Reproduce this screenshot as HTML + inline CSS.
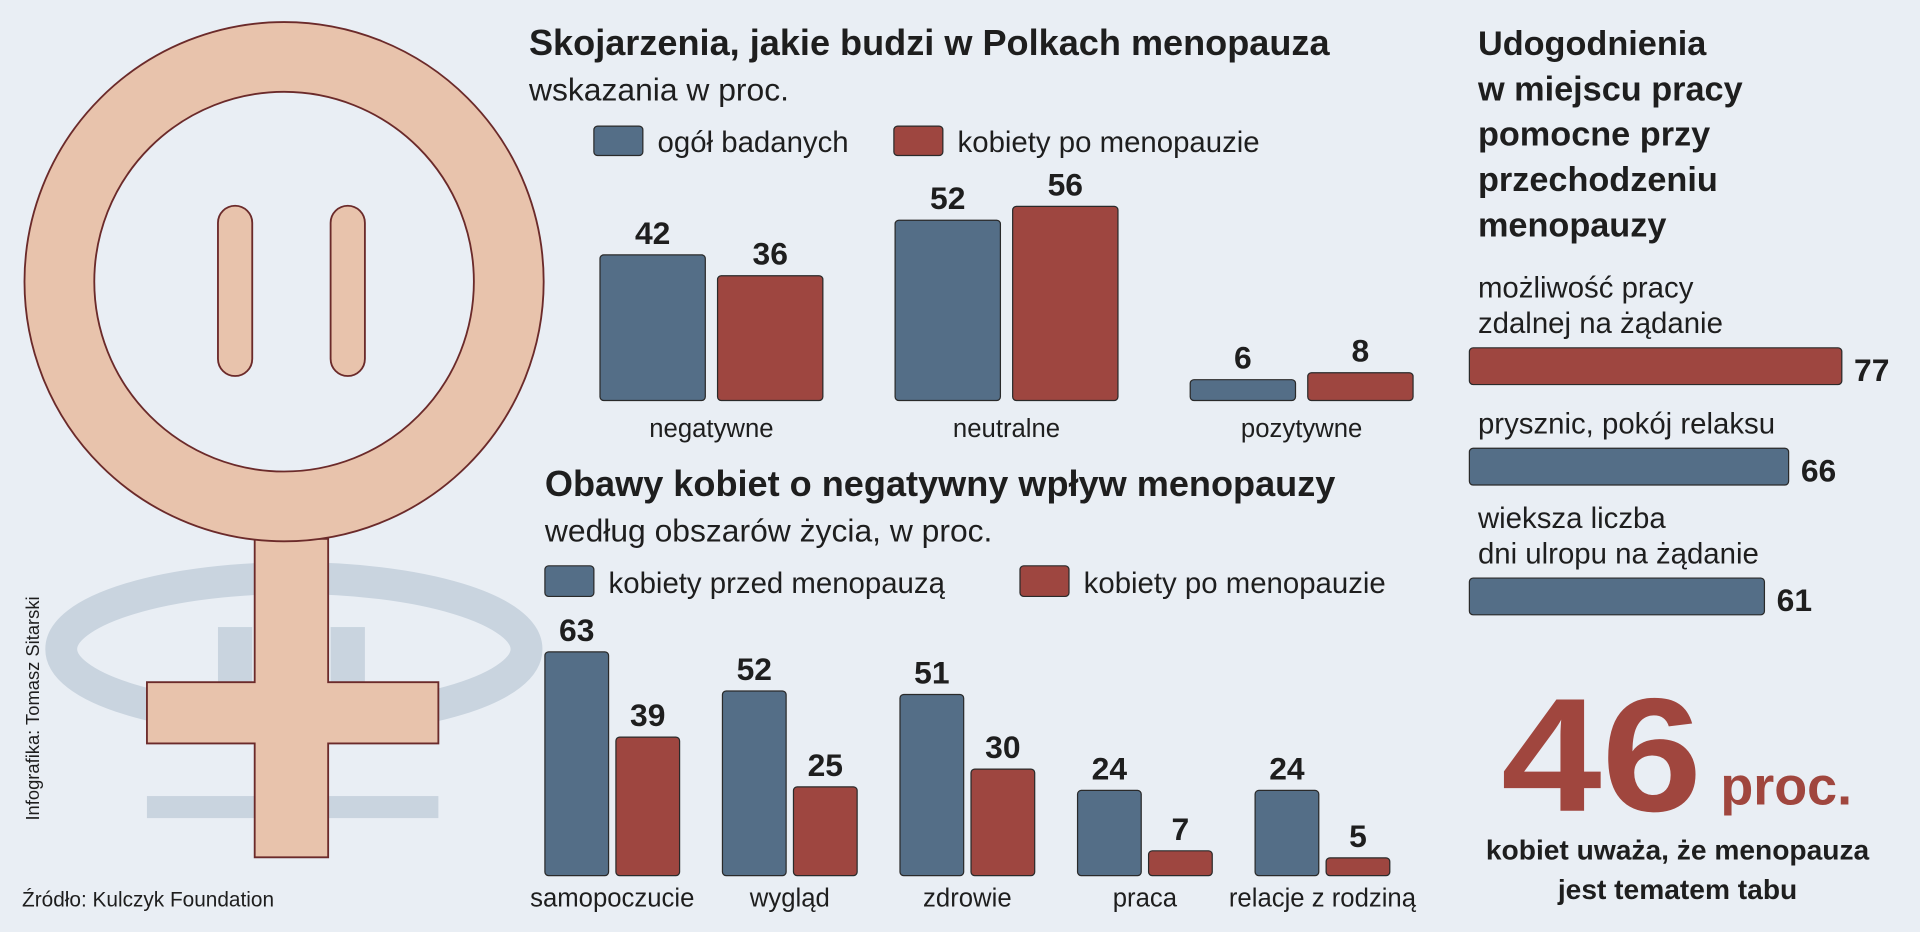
<!DOCTYPE html>
<html><head><meta charset="utf-8">
<style>
html,body{margin:0;padding:0;background:#e9eef4;overflow:hidden}
svg{display:block}
text{font-family:"Liberation Sans",sans-serif;fill:#1e1e1e}
.b{font-weight:bold}
</style></head>
<body>
<svg id="s" width="1920" height="932" viewBox="0 0 1568 761" preserveAspectRatio="none" xmlns="http://www.w3.org/2000/svg">
<rect width="1568" height="761" fill="#e9eef4"/>
<g fill="none" stroke="#c9d4df">
<ellipse cx="240" cy="530" rx="190" ry="58" stroke-width="26"/>
<rect x="178" y="512" width="28" height="45" fill="#c9d4df" stroke="none"/>
<rect x="270" y="512" width="28" height="45" fill="#c9d4df" stroke="none"/>
<rect x="120" y="650" width="238" height="18" fill="#c9d4df" stroke="none"/>
</g>
<g fill="#e8c3ac" stroke="#6b2a2a" stroke-width="1.5">
<path d="M208,440 L208,557 L120,557 L120,607 L208,607 L208,700 L268,700 L268,607 L358,607 L358,557 L268,557 L268,440 Z"/>
<circle cx="232" cy="230" r="212"/>
<circle cx="232" cy="230" r="155" fill="#e9eef4"/>
<rect x="178" y="168" width="28" height="139" rx="14"/>
<rect x="270" y="168" width="28" height="139" rx="14"/>
</g>
<text transform="translate(32,670) rotate(-90)" font-size="15">Infografika: Tomasz Sitarski</text>
<text x="18" y="740" font-size="17">Źródło: Kulczyk Foundation</text>

<text class="b" x="432" y="45" font-size="29.5">Skojarzenia, jakie budzi w Polkach menopauza</text>
<text x="432" y="82" font-size="26">wskazania w proc.</text>
<g>
<rect x="485" y="103" width="40" height="24" rx="3" fill="#546e87" stroke="#2a2a2a"/>
<text x="537" y="124" font-size="24">ogół badanych</text>
<rect x="730" y="103" width="40" height="24" rx="3" fill="#9e4640" stroke="#2a2a2a"/>
<text x="782" y="124" font-size="24">kobiety po menopauzie</text>
</g>
<g id="c1"></g>

<text class="b" x="445" y="405" font-size="29.5">Obawy kobiet o negatywny wpływ menopauzy</text>
<text x="445" y="442" font-size="26">według obszarów życia, w proc.</text>
<g>
<rect x="445" y="462" width="40" height="25" rx="3" fill="#546e87" stroke="#2a2a2a"/>
<text x="497" y="484" font-size="24">kobiety przed menopauzą</text>
<rect x="833" y="462" width="40" height="25" rx="3" fill="#9e4640" stroke="#2a2a2a"/>
<text x="885" y="484" font-size="24">kobiety po menopauzie</text>
</g>
<g id="c2"></g>

<g>
<text class="b" x="1207" y="45" font-size="28">Udogodnienia</text>
<text class="b" x="1207" y="82" font-size="28">w miejscu pracy</text>
<text class="b" x="1207" y="119" font-size="28">pomocne przy</text>
<text class="b" x="1207" y="156" font-size="28">przechodzeniu</text>
<text class="b" x="1207" y="193" font-size="28">menopauzy</text>
</g>
<g id="c3"></g>

<g>
<text class="b" x="1226" y="662" font-size="132" textLength="164" lengthAdjust="spacingAndGlyphs" style="fill:#a0463e">46</text>
<text class="b" x="1405" y="657" font-size="44" style="fill:#a0463e">proc.</text>
<text class="b" x="1370" y="702" font-size="23" text-anchor="middle">kobiet uważa, że menopauza</text>
<text class="b" x="1370" y="734" font-size="23" text-anchor="middle">jest tematem tabu</text>
</g>
</svg>
<script>
const c1Cats=["negatywne","neutralne","pozytywne"];
const c1All=[42,52,6];
const c1Post=[36,56,8];
const c2Cats=["samopoczucie","wygląd","zdrowie","praca","relacje z rodziną"];
const c2Pre=[63,52,51,24,24];
const c2Post=[39,25,30,7,5];
const c3Labels=[["możliwość pracy","zdalnej na żądanie"],["prysznic, pokój relaksu"],["wieksza liczba","dni ulropu na żądanie"]];
const c3Vals=[77,66,61];

const NS="http://www.w3.org/2000/svg";
const BLUE="#546e87",RED="#9e4640";
function mk(tag,attrs,parent,txt){const e=document.createElementNS(NS,tag);for(const k in attrs)e.setAttribute(k,attrs[k]);if(txt!==undefined)e.textContent=txt;parent.appendChild(e);return e;}

const g1=document.getElementById('c1');
const y1=v=>327-v*2.83;
c1Cats.forEach((c,i)=>{
  const x0=490+i*241;
  [[c1All[i],BLUE,0],[c1Post[i],RED,96]].forEach(([v,col,off],j)=>{
    const r=mk('rect',{x:x0+off,y:y1(v),width:86,height:327-y1(v),rx:3,fill:col,stroke:'#2a2a2a'},g1);
    
    
    const t=mk('text',{x:x0+off+43,y:y1(v)-9,'font-size':26,'text-anchor':'middle','class':'b'},g1,v);
    
    
  });
  const l=mk('text',{x:x0+91,y:357,'font-size':21,'text-anchor':'middle'},g1,c);
  
  
});

const g2=document.getElementById('c2');
const y2=v=>715-v*2.9;
c2Cats.forEach((c,i)=>{
  const x0=445+i*145;
  [[c2Pre[i],BLUE,0],[c2Post[i],RED,58]].forEach(([v,col,off],j)=>{
    const r=mk('rect',{x:x0+off,y:y2(v),width:52,height:715-y2(v),rx:3,fill:col,stroke:'#2a2a2a'},g2);
    
    
    const t=mk('text',{x:x0+off+26,y:y2(v)-9,'font-size':26,'text-anchor':'middle','class':'b'},g2,v);
    
    
  });
  const l=mk('text',{x:x0+55,y:740,'font-size':21,'text-anchor':'middle'},g2,c);
  
  
});

const g3=document.getElementById('c3');
const w3=v=>v*3.95;
const barY=[284,366,472];
const cols3=[RED,BLUE,BLUE];
c3Vals.forEach((v,i)=>{
  const lines=c3Labels[i];
  lines.forEach((ln,k)=>{
    const t=mk('text',{x:1207,y:barY[i]-12-(lines.length-1-k)*29,'font-size':24},g3,ln);
    
    
  });
  const r=mk('rect',{x:1200,y:barY[i],width:w3(v),height:30,rx:3,fill:cols3[i],stroke:'#2a2a2a'},g3);
  
  
  const t=mk('text',{x:1200+w3(v)+10,y:barY[i]+27,'font-size':26,'class':'b'},g3,v);
  
  
});
</script>
</body></html>
